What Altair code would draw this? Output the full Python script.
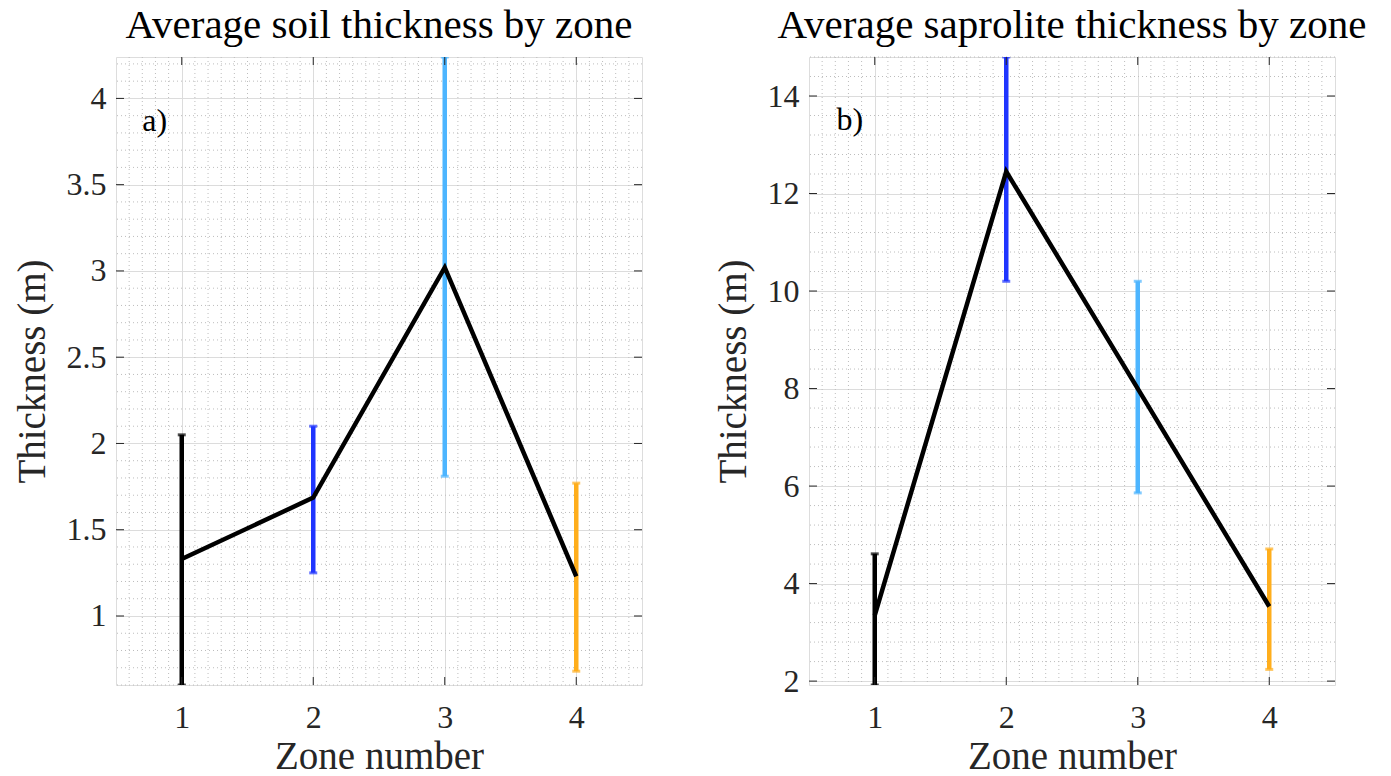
import altair as alt
import pandas as pd

# ---- data ----
zones = [1, 2, 3, 4]
zone_colors = ["#000000", "#1f35ff", "#4db5ff", "#ffae1c"]

soil_mean = [1.33, 1.686, 3.02, 1.23]
soil_low = [0.60, 1.25, 1.81, 0.68]
soil_high = [2.05, 2.10, 4.24, 1.77]

sap_mean = [3.35, 12.45, 8.0, 3.53]
sap_low = [1.92, 10.2, 5.86, 2.24]
sap_high = [4.61, 14.8, 10.2, 4.71]

x_domain = [0.5, 4.5]
soil_domain = [0.6, 4.24]
sap_domain = [1.92, 14.8]
soil_ticks = [1, 1.5, 2, 2.5, 3, 3.5, 4]
sap_ticks = [2, 4, 6, 8, 10, 12, 14]

# minor grid positions (MATLAB style minor grid)
x_minor = [round(0.5 + 0.1 * i, 2) for i in range(1, 40) if (i % 10) != 5]
soil_minor = [round(0.6 + 0.1 * i, 2) for i in range(0, 37)]
soil_minor = [v for v in soil_minor if abs(v * 2 - round(v * 2)) > 1e-6]
sap_minor = [round(2.0 + 0.4 * i, 2) for i in range(0, 33)]
sap_minor = [v for v in sap_minor if abs(v / 2 - round(v / 2)) > 1e-6 and v <= 14.8]

FONT = "Liberation Serif"
W, H = 526, 628
FRAME = "#262626"


def panel(title, mean, low, high, ydom, yticks, yminor, tag, tag_x, tag_y):
    df = pd.DataFrame({"zone": zones, "mean": mean, "low": low, "high": high})
    xs = alt.Scale(domain=x_domain, nice=False, zero=False)
    ys = alt.Scale(domain=ydom, nice=False, zero=False)
    xaxis = alt.Axis(values=zones, title="Zone number", grid=True, gridColor="#dcdcdc",
                     ticks=False, domain=False, labelPadding=17, titlePadding=4,
                     format="d", labelFont=FONT, titleFont=FONT, labelFontSize=32,
                     titleFontSize=39, titleFontWeight="normal", labelColor="#262626",
                     titleColor="#262626")
    yaxis = alt.Axis(values=yticks, title="Thickness (m)", grid=True, gridColor="#dcdcdc",
                     ticks=False, domain=False, labelPadding=10, titlePadding=14,
                     format="~g", labelFont=FONT, titleFont=FONT, labelFontSize=32,
                     titleFontSize=39, titleFontWeight="normal", labelColor="#262626",
                     titleColor="#262626")
    X = lambda f: alt.X(f, scale=xs, axis=xaxis)
    Y = lambda f: alt.Y(f, scale=ys, axis=yaxis)

    minor_x = alt.Chart(pd.DataFrame({"v": x_minor})).mark_rule(
        strokeDash=[1, 3], color="#bdbdbd", strokeWidth=1).encode(x=X("v:Q"))
    minor_y = alt.Chart(pd.DataFrame({"v": yminor})).mark_rule(
        strokeDash=[1, 3], color="#bdbdbd", strokeWidth=1).encode(y=Y("v:Q"))

    tick_x = alt.Chart(pd.DataFrame({"v": zones}))
    tx_bot = tick_x.mark_rule(color=FRAME, strokeWidth=1).encode(
        x=X("v:Q"), y=alt.value(H), y2=alt.value(H - 8))
    tx_top = tick_x.mark_rule(color=FRAME, strokeWidth=1).encode(
        x=X("v:Q"), y=alt.value(0), y2=alt.value(8))
    tick_y = alt.Chart(pd.DataFrame({"v": yticks}))
    ty_left = tick_y.mark_rule(color=FRAME, strokeWidth=1).encode(
        y=Y("v:Q"), x=alt.value(0), x2=alt.value(8))
    ty_right = tick_y.mark_rule(color=FRAME, strokeWidth=1).encode(
        y=Y("v:Q"), x=alt.value(W - 8), x2=alt.value(W))

    color = alt.Color("zone:N", scale=alt.Scale(domain=zones, range=zone_colors), legend=None)
    base = alt.Chart(df)
    bars = base.mark_rule(strokeWidth=4.5, clip=True).encode(
        x=X("zone:Q"), y=Y("low:Q"), y2="high:Q", color=color)
    cap_hi = base.mark_tick(orient="horizontal", size=8, thickness=3, clip=True).encode(
        x=X("zone:Q"), y=Y("high:Q"), color=color)
    cap_lo = base.mark_tick(orient="horizontal", size=8, thickness=3, clip=True).encode(
        x=X("zone:Q"), y=Y("low:Q"), color=color)
    line = base.mark_line(color="black", strokeWidth=4.5, clip=True).encode(
        x=X("zone:Q"), y=Y("mean:Q"))
    label = alt.Chart(pd.DataFrame({"x": [tag_x], "y": [tag_y], "t": [tag]})).mark_text(
        font=FONT, fontSize=32, align="left", baseline="middle", color="black").encode(
        x=X("x:Q"), y=Y("y:Q"), text="t:N")

    return alt.layer(minor_x, minor_y, bars, cap_hi, cap_lo, line,
                     tx_bot, tx_top, ty_left, ty_right, label).properties(
        width=W, height=H,
        title=alt.TitleParams(title, font=FONT, fontSize=41, fontWeight="normal",
                              color="black", offset=10, anchor="middle"))


left = panel("Average soil thickness by zone", soil_mean, soil_low, soil_high,
             soil_domain, soil_ticks, soil_minor, "a)", 0.7, 3.87)
right = panel("Average saprolite thickness by zone", sap_mean, sap_low, sap_high,
              sap_domain, sap_ticks, sap_minor, "b)", 0.71, 13.5)

chart = alt.hconcat(left, right, spacing=70).properties(
    padding={"left": 12, "top": 4, "right": 5, "bottom": 5}
).configure_view(stroke=FRAME, strokeWidth=1).configure(background="white")

chart.save("out.html", embed_options={"renderer": "svg", "actions": False})
